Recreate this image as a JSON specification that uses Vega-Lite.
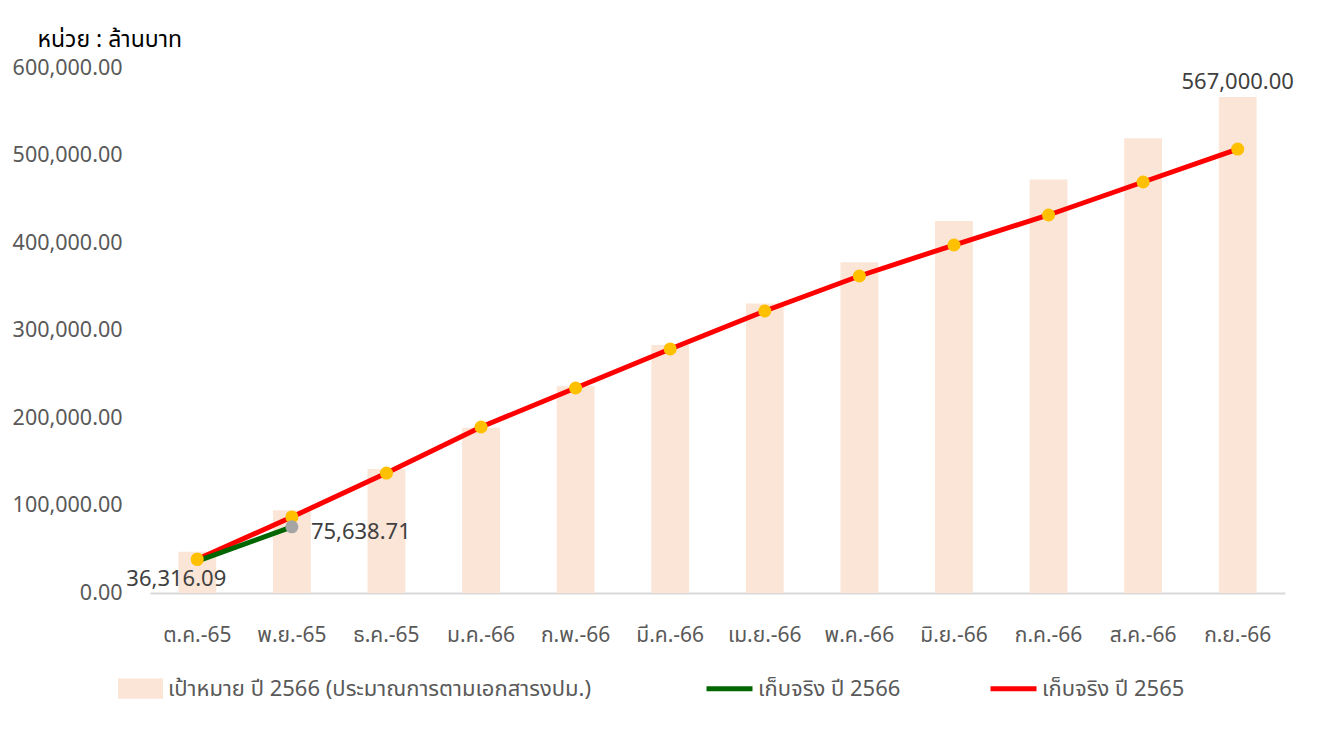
{
  "$schema": "https://vega.github.io/schema/vega-lite/v6.json",
  "autosize": {"type": "none"},
  "padding": {"left": 150, "top": 68, "right": 33, "bottom": 141},
  "width": 1135,
  "height": 525,
  "background": "white",
  "config": {"view": {"stroke": null}, "font": "Noto Sans, Noto Sans Thai, sans-serif"},
  "data": {"values": [
    {"month": "ต.ค.-65", "target": 47250, "actual65": 38500, "actual66": 36316.09},
    {"month": "พ.ย.-65", "target": 94500, "actual65": 86900, "actual66": 75638.71},
    {"month": "ธ.ค.-65", "target": 141750, "actual65": 137100, "actual66": null},
    {"month": "ม.ค.-66", "target": 189000, "actual65": 189700, "actual66": null},
    {"month": "ก.พ.-66", "target": 236250, "actual65": 234300, "actual66": null},
    {"month": "มี.ค.-66", "target": 283500, "actual65": 278900, "actual66": null},
    {"month": "เม.ย.-66", "target": 330750, "actual65": 322300, "actual66": null},
    {"month": "พ.ค.-66", "target": 378000, "actual65": 362300, "actual66": null},
    {"month": "มิ.ย.-66", "target": 425250, "actual65": 397700, "actual66": null},
    {"month": "ก.ค.-66", "target": 472500, "actual65": 432000, "actual66": null},
    {"month": "ส.ค.-66", "target": 519750, "actual65": 469700, "actual66": null},
    {"month": "ก.ย.-66", "target": 567000, "actual65": 507400, "actual66": null}
  ]},
  "encoding": {
    "x": {
      "field": "month", "type": "ordinal", "sort": null,
      "scale": {"paddingInner": 0.6, "paddingOuter": 0.3},
      "axis": {"title": null, "labelAngle": 0, "ticks": false, "domainColor": "#d9d9d9", "domainWidth": 2,
               "labelPadding": 31, "labelFontSize": 21, "labelColor": "#595959", "labelFontWeight": "normal"}
    },
    "y": {"type": "quantitative",
          "scale": {"domain": [0, 600000], "nice": false},
          "axis": {"title": "หน่วย : ล้านบาท", "titleAngle": 0, "titleAlign": "left", "titleBaseline": "alphabetic",
                   "titleX": -113, "titleY": -22, "titleColor": "black", "titleFontSize": 23, "titleFontWeight": "normal",
                   "domain": false, "ticks": false, "grid": false, "labelPadding": 28, "labelFontSize": 21.5,
                   "labelColor": "#595959", "format": ",.2f",
                   "values": [0, 100000, 200000, 300000, 400000, 500000, 600000]}}
  },
  "layer": [
    {
      "mark": {"type": "bar"},
      "encoding": {
        "y": {"field": "target", "type": "quantitative", "title": "หน่วย : ล้านบาท"},
        "fill": {"datum": "เป้าหมาย ปี 2566 (ประมาณการตามเอกสารงปม.)", "type": "nominal",
                 "scale": {"range": ["#fbe5d6"]},
                 "legend": {"orient": "none", "legendX": -32, "legendY": 598, "title": null,
                            "symbolType": "M-1,-0.45H1V0.45H-1Z", "symbolSize": 2025, "symbolStrokeWidth": 0,
                            "labelFontSize": 22, "labelColor": "#595959", "labelOffset": 5, "labelLimit": 700}}
      }
    },
    {
      "mark": {"type": "line", "strokeWidth": 5},
      "encoding": {
        "y": {"field": "actual65", "type": "quantitative", "title": "หน่วย : ล้านบาท"},
        "color": {"datum": "เก็บจริง ปี 2565", "type": "nominal",
                  "scale": {"domain": ["เก็บจริง ปี 2566", "เก็บจริง ปี 2565"], "range": ["#006600", "#ff0000"]},
                  "legend": {"orient": "none", "legendX": 554, "legendY": 595, "title": null, "direction": "horizontal",
                             "symbolType": "stroke", "symbolSize": 2116, "symbolStrokeWidth": 5,
                             "labelFontSize": 22, "labelColor": "#595959", "labelOffset": 3, "columnPadding": 79, "labelLimit": 400}}
      }
    },
    {
      "mark": {"type": "point", "filled": true, "color": "#ffc000", "size": 170, "opacity": 1},
      "encoding": {"y": {"field": "actual65", "type": "quantitative", "title": "หน่วย : ล้านบาท"}}
    },
    {
      "transform": [{"filter": "datum.actual66 != null"}],
      "mark": {"type": "line", "strokeWidth": 5},
      "encoding": {
        "y": {"field": "actual66", "type": "quantitative", "title": "หน่วย : ล้านบาท"},
        "color": {"datum": "เก็บจริง ปี 2566", "type": "nominal"}
      }
    },
    {
      "transform": [{"filter": "datum.actual66 != null && datum.month == 'พ.ย.-65'"}],
      "mark": {"type": "point", "filled": true, "color": "#a5a5a5", "size": 170, "opacity": 1},
      "encoding": {"y": {"field": "actual66", "type": "quantitative", "title": "หน่วย : ล้านบาท"}}
    },
    {
      "transform": [{"filter": "datum.month == 'ต.ค.-65'"}],
      "mark": {"type": "point", "filled": true, "color": "#ffc000", "size": 170, "opacity": 1},
      "encoding": {"y": {"field": "actual65", "type": "quantitative", "title": "หน่วย : ล้านบาท"}}
    },
    {
      "transform": [{"filter": "datum.month == 'ต.ค.-65'"}],
      "mark": {"type": "text", "dx": -21, "dy": 18, "fontSize": 22, "color": "#404040"},
      "encoding": {"y": {"field": "actual66", "type": "quantitative", "title": "หน่วย : ล้านบาท"},
                   "text": {"field": "actual66", "type": "quantitative", "format": ",.2f"}}
    },
    {
      "transform": [{"filter": "datum.month == 'พ.ย.-65'"}],
      "mark": {"type": "text", "align": "left", "dx": 19, "dy": 5, "fontSize": 22, "color": "#404040"},
      "encoding": {"y": {"field": "actual66", "type": "quantitative", "title": "หน่วย : ล้านบาท"},
                   "text": {"field": "actual66", "type": "quantitative", "format": ",.2f"}}
    },
    {
      "transform": [{"filter": "datum.month == 'ก.ย.-66'"}],
      "mark": {"type": "text", "baseline": "bottom", "dy": -3, "fontSize": 22, "color": "#404040"},
      "encoding": {"y": {"field": "target", "type": "quantitative", "title": "หน่วย : ล้านบาท"},
                   "text": {"field": "target", "type": "quantitative", "format": ",.2f"}}
    }
  ]
}
